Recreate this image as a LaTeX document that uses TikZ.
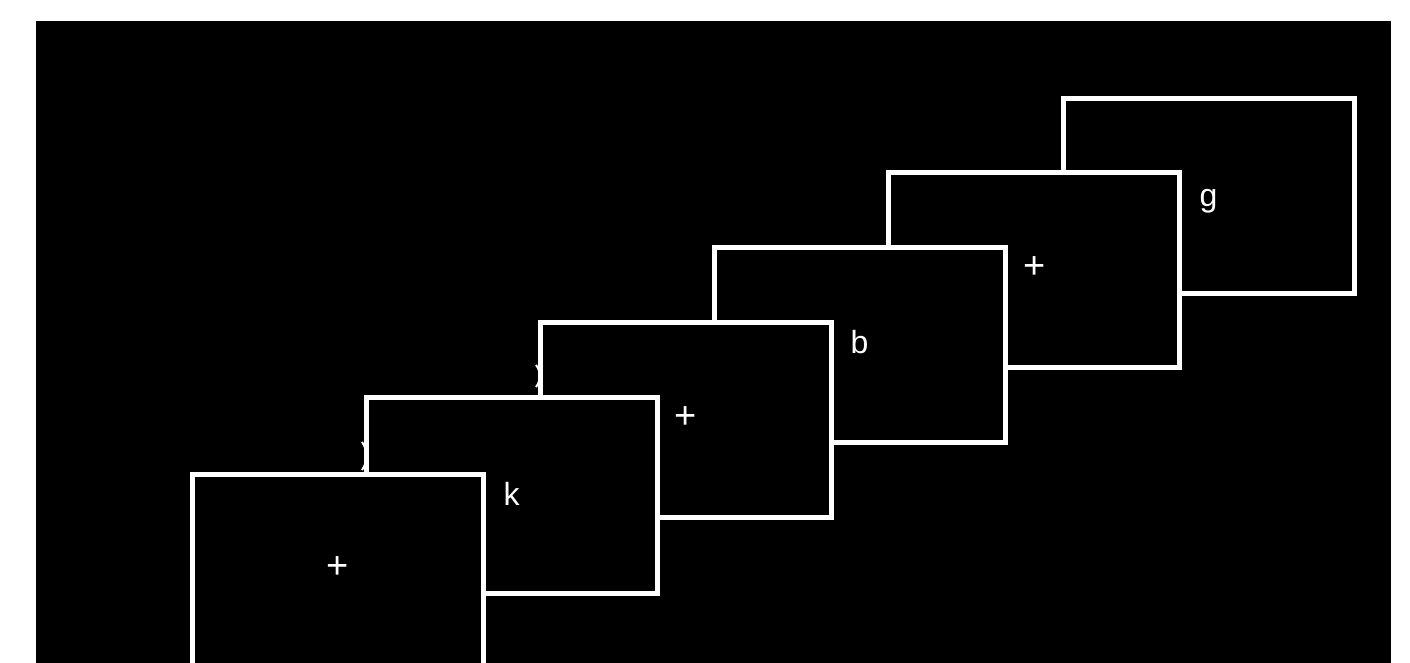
\documentclass[tikz,border=0pt]{standalone}
\usepackage{fontspec}
\setmainfont{Liberation Sans}
\begin{document}
\begin{tikzpicture}[x=0.5pt,y=-0.5pt,
  frame/.style={draw=white,fill=black,line width=2.5pt,minimum width=145.5pt,minimum height=97.5pt,inner sep=0pt,outer sep=0pt},
  lbl/.style={text=white,font=\fontsize{16}{18}\selectfont,inner sep=0pt},
  plus/.style={text=white,font=\fontsize{19}{21}\selectfont,inner sep=0pt}]
\useasboundingbox (0,0) rectangle (1410,663);
\clip (0,0) rectangle (1410,663);
\fill[white] (0,0) rectangle (1410,663);
\fill[black] (36,21) rectangle (1391,663);
% hidden fragments
\draw[white,line width=1pt] (362,442) .. controls (368,450) and (368,462) .. (362,470);
\draw[white,line width=1pt] (536,365) .. controls (541,371) and (541,381) .. (536,387);
% frames back to front
\node[frame] (f1) at (1208.5,196) {};
\node[lbl] at (1208.5,201) {g};
\node[frame] (f2) at (1034,270) {};
\node[plus] at (1035,268) {+};
\node[frame] (f3) at (859.5,345) {};
\node[lbl] at (859.5,342) {b};
\node[frame] (f4) at (685.5,420) {};
\node[plus] at (685.5,418) {+};
\node[frame] (f5) at (511.5,495.5) {};
\node[lbl] at (511.5,494) {k};
\node[frame] (f6) at (337.5,572) {};
\node[plus] at (338,568) {+};
\end{tikzpicture}
\end{document}
